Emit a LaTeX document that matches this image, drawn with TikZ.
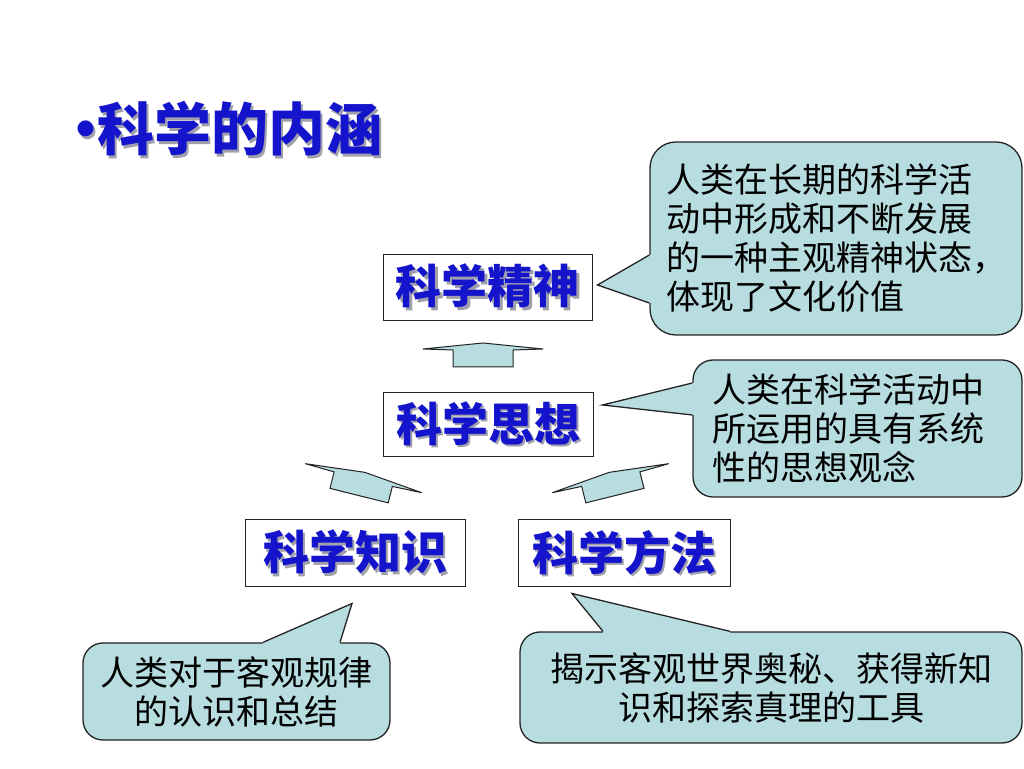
\documentclass[tikz,border=0pt]{standalone}
\usepackage{fontspec}
\newfontfamily\cjk{Noto Sans CJK SC}
\usetikzlibrary{calc}

\definecolor{kblue}{RGB}{20,20,205}
\definecolor{kshadow}{RGB}{160,160,172}
\definecolor{notefill}{RGB}{183,221,224}
\definecolor{lineclr}{RGB}{35,35,35}
\newcommand\shadowtxt[1]{\makebox[0pt][l]{\hspace{2.5pt}\raisebox{-2.5pt}{\color{kshadow}#1}}#1}

\begin{document}
\begin{tikzpicture}[x=1pt,y=1pt,
    kbox/.style={draw=lineclr,line width=1pt,fill=white,text=kblue,inner sep=0pt,
      font=\cjk\bfseries\fontsize{46}{50}\selectfont},
    note/.style={draw=lineclr,line width=1.3pt,fill=notefill,rounded corners=26pt,inner sep=0pt,
      font=\cjk\fontsize{34}{39}\selectfont},
    tipline/.style={draw=lineclr,line width=1.3pt,line join=miter},
    uparr/.pic={\draw[lineclr,line width=1pt,fill=notefill] (-30,-12) -- (-30,5) -- (-60,6)
      -- (0,12) -- (60,6) -- (30,5) -- (30,-12) -- cycle;}]
    \useasboundingbox (0,0) rectangle (1024,768);

    % title
    \node[anchor=west,inner sep=0pt,text=kblue,font=\cjk\bfseries\fontsize{57}{60}\selectfont] (title) at (74,638)
      {\shadowtxt{\makebox[23pt][c]{•}科学的内涵}};

    % the four boxes
    \node[kbox,minimum width=209,minimum height=66] (jingshen) at (487.5,480.5) {\shadowtxt{科学精神}};
    \node[kbox,minimum width=210,minimum height=64] (sixiang) at (488,343) {\shadowtxt{科学思想}};
    \node[kbox,minimum width=220,minimum height=67] (zhishi) at (355,214.5) {\shadowtxt{科学知识}};
    \node[kbox,minimum width=212,minimum height=67] (fangfa) at (624,214.5) {\shadowtxt{科学方法}};

    % block arrows
    \pic at (483,413) {uparr};
    \pic[rotate=-14] at (362,284) {uparr};
    \pic[rotate=14] at (612,284) {uparr};

    % notes
    \node[note,minimum width=372,minimum height=193,align=left] (noteA) at (836,529.5)
      {人类在长期的科学活\\动中形成和不断发展\\的一种主观精神状态，\\体现了文化价值};
    \node[note,rounded corners=20pt,minimum width=329,minimum height=137,text width=291,align=left] (noteB) at (857.5,339.5)
      {人类在科学活动中\\所运用的具有系统\\性的思想观念};
    \node[note,rounded corners=20pt,minimum width=307,minimum height=97,align=center] (noteC) at (236.5,76.5)
      {人类对于客观规律\\的认识和总结};
    \node[note,rounded corners=20pt,minimum width=502,minimum height=111,align=center] (noteD) at (771,80.5)
      {揭示客观世界奥秘、获得新知\\识和探索真理的工具};

    % pointers of the notes
    \coordinate (tipA) at ($(jingshen.east)+(5,2.5)$);
    \coordinate (a1) at ($(noteA.west)+(0,-16.5)$);
    \coordinate (a2) at ($(noteA.west)+(0,-64.5)$);
    \fill[notefill] (a1) -- (tipA) -- (a2) -- ++(3,0) -- ($(a1)+(3,0)$) -- cycle;
    \draw[tipline] (a1) -- (tipA) -- (a2);

    \coordinate (tipB) at ($(sixiang.east)+(9,20)$);
    \coordinate (b1) at ($(noteB.west)+(0,45.5)$);
    \coordinate (b2) at ($(noteB.west)+(0,13.5)$);
    \fill[notefill] (b1) -- (tipB) -- (b2) -- ++(3,0) -- ($(b1)+(3,0)$) -- cycle;
    \draw[tipline] (b1) -- (tipB) -- (b2);

    \coordinate (tipC) at ($(zhishi.south)+(-3,-16)$);
    \coordinate (c1) at ($(noteC.north)+(26.5,0)$);
    \coordinate (c2) at ($(noteC.north)+(103.5,0)$);
    \fill[notefill] (c1) -- (tipC) -- (c2) -- ++(0,-3) -- ($(c1)+(0,-3)$) -- cycle;
    \draw[tipline] (c1) -- (tipC) -- (c2);

    \coordinate (tipD) at ($(fangfa.south)+(-52,-6)$);
    \coordinate (d1) at ($(noteD.north)+(-168,0)$);
    \coordinate (d2) at ($(noteD.north)+(-41,0)$);
    \fill[notefill] (d1) -- (tipD) -- (d2) -- ++(0,-3) -- ($(d1)+(0,-3)$) -- cycle;
    \draw[tipline] (d1) -- (tipD) -- (d2);
\end{tikzpicture}
\end{document}
